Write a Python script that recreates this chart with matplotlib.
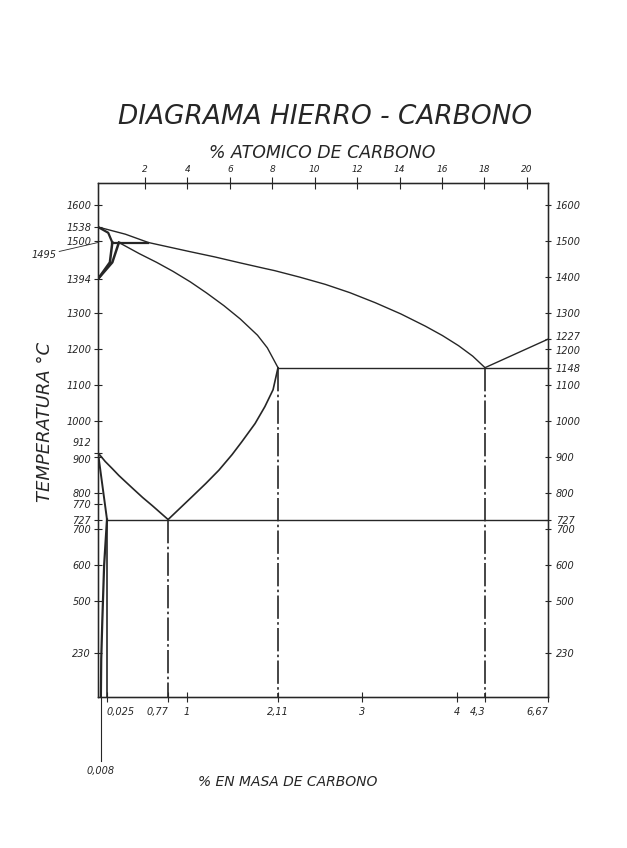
# Diagrama hierro - carbono (copia del dibujo escaneado)
import numpy as np
import matplotlib
matplotlib.use('Agg')
import matplotlib.pyplot as plt
from matplotlib.transforms import ScaledTranslation, blended_transform_factory

# --- datos: % C en masa y temperatura en °C ---
liquidus_c = [0.0, 0.25, 0.53, 1.03, 1.34, 1.64, 1.95, 2.07, 2.34, 2.61, 2.87, 3.14,
              3.41, 3.67, 3.85, 4.02, 4.17, 4.30]
liquidus_t = [1538, 1518, 1495, 1470, 1455, 1439, 1423, 1417, 1399, 1379, 1356, 1328,
              1297, 1263, 1237, 1209, 1180, 1148]
liquidus2_c = [4.30, 6.67]
liquidus2_t = [1148, 1227]
solidus_delta_c = [0.0, 0.04, 0.09]
solidus_delta_t = [1538, 1522, 1495]
peritectica_c = [0.09, 0.53]
peritectica_t = [1495, 1495]
hn_c = [0.09, 0.06, 0.0]
hn_t = [1495, 1440, 1394]
jn_c = [0.17, 0.09, 0.0]
jn_t = [1495, 1440, 1394]
solidus_c = [0.17, 0.42, 0.63, 0.83, 1.04, 1.24, 1.45, 1.65, 1.86, 1.98, 2.11]
solidus_t = [1495, 1464, 1440, 1415, 1386, 1355, 1320, 1283, 1238, 1203, 1148]
eutectica_c = [2.11, 6.67]
eutectica_t = [1148, 1148]
acm_c = [2.11, 2.05, 1.95, 1.83, 1.67, 1.55, 1.39, 1.23, 1.07, 0.95, 0.77]
acm_t = [1148, 1087, 1040, 993, 943, 907, 864, 827, 792, 766, 727]
a3_c = [0.0, 0.02, 0.09, 0.17, 0.25, 0.34, 0.46, 0.58, 0.77]
a3_t = [912, 888, 868, 849, 832, 813, 788, 765, 727]
gp_c = [0.0, 0.025]
gp_t = [912, 727]
eutectoide_c = [0.025, 6.67]
eutectoide_t = [727, 727]
pq_c = [0.025, 0.017, 0.012, 0.009, 0.008]
pq_t = [727, 600, 400, 200, 0]
vertical_p = 0.025
verticales_c = [0.77, 2.11, 4.30]
verticales_t = [727, 1148, 1148]

izq_ticks = [1600, 1538, 1500, 1394, 1300, 1200, 1100, 1000, 912, 900, 800, 770, 727, 700, 600, 500, 230]
der_ticks = [1600, 1500, 1400, 1300, 1227, 1200, 1148, 1100, 1000, 900, 800, 727, 700, 600, 500, 230]
masa_ticks = [0.025, 0.77, 1, 2.11, 3, 4, 4.3, 6.67]
masa_labels = ['0,025', '0,77', '1', '2,11', '3', '4', '4,3', '6,67']
masa_ha = ['left', 'right', 'center', 'center', 'center', 'center', 'right', 'right']
atomico_ticks = [2, 4, 6, 8, 10, 12, 14, 16, 18, 20]

# escala del eje x del dibujo (no es lineal: ampliada cerca de 0 y comprimida despues de 4,3)
ESC_C = [0.0, 0.025, 2.11, 4.30, 6.67]
ESC_POS = [0.0, 9.0, 180.0, 387.0, 450.0]


def tramos(v, a, b):
    v = np.asarray(v, dtype=float)
    out = np.interp(v, a, b)
    out = np.where(v < a[0], b[0] + (v - a[0]) * (b[1] - b[0]) / (a[1] - a[0]), out)
    out = np.where(v > a[-1], b[-1] + (v - a[-1]) * (b[-1] - b[-2]) / (a[-1] - a[-2]), out)
    return out


def x_fwd(v):
    return tramos(v, ESC_C, ESC_POS)


def x_inv(v):
    return tramos(v, ESC_POS, ESC_C)


# eje de temperatura comprimido por debajo de 500 °C
def y_fwd(t):
    t = np.asarray(t, dtype=float)
    return np.where(t >= 500, t, 500 - (500 - t) * 0.53)


def y_inv(s):
    s = np.asarray(s, dtype=float)
    return np.where(s >= 500, s, 500 - (500 - s) / 0.53)


tinta = '#262626'
plt.rcParams['font.family'] = ['DejaVu Sans']
plt.rcParams['font.style'] = 'italic'

fig = plt.figure(figsize=(6.27, 8.48), dpi=100)
ax = fig.add_axes([98 / 627, 1 - 697 / 848, 450 / 627, 514 / 848])
ax.set_xscale('function', functions=(x_fwd, x_inv))
ax.set_yscale('function', functions=(y_fwd, y_inv))
ax.set_xlim(0, 6.67)
ax.set_ylim(0, 1660)

lw = 1.0
ax.plot(liquidus_c, liquidus_t, color=tinta, lw=lw)
ax.plot(liquidus2_c, liquidus2_t, color=tinta, lw=lw)
ax.plot(solidus_delta_c, solidus_delta_t, color=tinta, lw=1.6)
ax.plot(peritectica_c, peritectica_t, color=tinta, lw=1.6)
ax.plot(hn_c, hn_t, color=tinta, lw=1.8)
ax.plot(jn_c, jn_t, color=tinta, lw=1.8)
ax.plot(solidus_c, solidus_t, color=tinta, lw=lw)
ax.plot(eutectica_c, eutectica_t, color=tinta, lw=lw)
ax.plot(acm_c, acm_t, color=tinta, lw=1.2)
ax.plot(a3_c, a3_t, color=tinta, lw=1.2)
ax.plot(gp_c, gp_t, color=tinta, lw=1.4)
ax.plot(eutectoide_c, eutectoide_t, color=tinta, lw=lw)
ax.plot(pq_c, pq_t, color=tinta, lw=1.6)
ax.plot([vertical_p, vertical_p], [727, 0], color=tinta, lw=1.2)
for c, t in zip(verticales_c, verticales_t):
    ax.plot([c, c], [t, 0], color=tinta, lw=1.2, dashes=(14, 2, 1.5, 2))

# linea de 0,008 que baja por fuera del eje
trans = blended_transform_factory(ax.transData, ax.transAxes)
ax.plot([0.008, 0.008], [0, -0.125], color=tinta, lw=0.8, transform=trans, clip_on=False)
ax.text(0.008, -0.135, '0,008', transform=trans, ha='center', va='top', fontsize=7, color=tinta)

for s in ax.spines.values():
    s.set_color(tinta)
    s.set_linewidth(1.0)

# eje izquierdo
ax.set_yticks(izq_ticks, [str(t) for t in izq_ticks])
ax.yaxis.set_minor_locator(plt.NullLocator())
ax.tick_params(axis='y', direction='inout', length=6, width=0.8, labelsize=7,
               pad=2, colors=tinta)
ylabs = ax.get_yticklabels()
for valor, dy in [(912, 8), (900, -1)]:
    lbl = ylabs[izq_ticks.index(valor)]
    lbl.set_transform(lbl.get_transform() + ScaledTranslation(0, dy / 72, fig.dpi_scale_trans))

ax.annotate('1495', xy=(0, 1495), xytext=(-30, -9), textcoords='offset points',
            ha='right', va='center', fontsize=7, color=tinta,
            arrowprops=dict(arrowstyle='-', lw=0.6, color=tinta, shrinkA=0, shrinkB=0))

# eje inferior (% en masa)
ax.set_xticks(masa_ticks, masa_labels)
ax.xaxis.set_minor_locator(plt.NullLocator())
ax.tick_params(axis='x', direction='inout', length=7, width=0.8, labelsize=7,
               pad=4, colors=tinta)
for lbl, ha in zip(ax.get_xticklabels(), masa_ha):
    lbl.set_ha(ha)

# eje derecho
axd = ax.twinx()
axd.set_yscale('function', functions=(y_fwd, y_inv))
axd.set_ylim(0, 1660)
axd.set_yticks(der_ticks, [str(t) for t in der_ticks])
axd.yaxis.set_minor_locator(plt.NullLocator())
axd.tick_params(axis='y', direction='inout', length=5, width=0.8, labelsize=7,
                pad=3, colors=tinta)
dlabs = axd.get_yticklabels()
for valor, dy in [(1227, 2), (1200, -1)]:
    lbl = dlabs[der_ticks.index(valor)]
    lbl.set_transform(lbl.get_transform() + ScaledTranslation(0, dy / 72, fig.dpi_scale_trans))

# eje superior (% atomico)
axs = ax.twiny()
axs.set_xlim(-0.22, 21.0)
axs.set_xticks(atomico_ticks)
axs.xaxis.set_minor_locator(plt.NullLocator())
axs.tick_params(axis='x', direction='inout', length=9, width=0.8, labelsize=6.5,
                pad=2, colors=tinta)
for a in (axd, axs):
    for s in a.spines.values():
        s.set_color(tinta)

fig.text(325 / 627, 1 - 117 / 848, 'DIAGRAMA HIERRO - CARBONO', ha='center', va='center',
         fontsize=19, color=tinta)
fig.text(322 / 627, 1 - 153 / 848, '% ATOMICO DE CARBONO', ha='center', va='center',
         fontsize=12.5, color=tinta)
fig.text(45 / 627, 1 - 422 / 848, 'TEMPERATURA °C', ha='center', va='center',
         rotation=90, fontsize=13, color=tinta)
fig.text(288 / 627, 1 - 782 / 848, '% EN MASA DE CARBONO', ha='center', va='center',
         fontsize=10, color=tinta)

fig.savefig('out.png', dpi=100, facecolor='white')
